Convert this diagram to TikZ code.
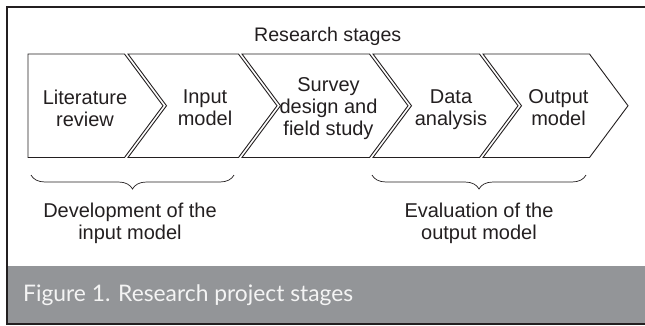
\documentclass[tikz,border=0pt]{standalone}
\usepackage{fontspec}
\setmainfont{Liberation Sans}
\newfontfamily\capfont{Lato}
\usetikzlibrary{decorations.pathreplacing}
\definecolor{ink}{HTML}{231F20}
\definecolor{band}{HTML}{939598}
\definecolor{captxt}{HTML}{F4F4F4}
\begin{document}
\begin{tikzpicture}[x=1pt,y=-1pt,
  stage/.style={draw=ink,line width=0.9pt,line join=miter},
  lbl/.style={text=ink,align=center,font=\fontsize{20}{22}\selectfont,inner sep=0pt},
  grp/.style={decorate,decoration={brace,mirror,amplitude=14pt},draw=ink,line width=0.7pt},
  frame/.style={draw=ink,line width=2pt}]
\useasboundingbox (0,0) rectangle (645,325);
% caption band
\fill[band] (7,266) rectangle (645,323.5);
\draw[frame] (645,7) -- (6.5,7) -- (6.5,325);
\draw[ink,line width=1.5pt] (6.5,324.2) -- (645,324.2);
% title
\node[lbl,anchor=base,font=\fontsize{19.6}{22}\selectfont] (title) at (327.7,41) {Research stages};
% stages
\def\ym{105.75}
\draw[stage] (28,54) -- (124.5,54) -- (163,\ym) -- (124.5,157.5) -- (28,157.5) -- cycle;
\draw[stage] (128,54) -- (238.5,54) -- (277,\ym) -- (238.5,157.5) -- (128,157.5) -- (166.5,\ym) -- cycle;
\draw[stage] (242,54) -- (369.5,54) -- (408,\ym) -- (369.5,157.5) -- (242,157.5) -- (280.5,\ym) -- cycle;
\draw[stage] (373,54) -- (479.5,54) -- (518,\ym) -- (479.5,157.5) -- (373,157.5) -- (411.5,\ym) -- cycle;
\draw[stage] (483,54) -- (589.5,54) -- (628,\ym) -- (589.5,157.5) -- (483,157.5) -- (521.5,\ym) -- cycle;
\node[lbl] (lit) at (85,107.85) {Literature\\review};
\node[lbl] (inp) at (205,107.85) {Input\\model};
\node[lbl] (sur) at (328.5,108.4) {Survey\\design and\\field study};
\node[lbl] (dat) at (451,110) {Data\\analysis};
\node[lbl] (out) at (558.5,107.85) {Output\\model};
% braces
\coordinate (b1a) at (31,175);
\coordinate (b1b) at (234,175);
\coordinate (b2a) at (372,175);
\coordinate (b2b) at (586,175);
\draw[grp] (b1a) -- (b1b);
\draw[grp] (b2a) -- (b2b);
\node[lbl] (dev) at (130,223.8) {Development of the\\input model};
\node[lbl] (eva) at (479,223.8) {Evaluation of the\\output model};
% caption
\node[anchor=base west,inner sep=0pt,text=captxt,font=\capfont\fontsize{22.8}{26}\selectfont] (cap) at (23,301.7) {Figure 1. Research project stages};
\end{tikzpicture}
\end{document}
